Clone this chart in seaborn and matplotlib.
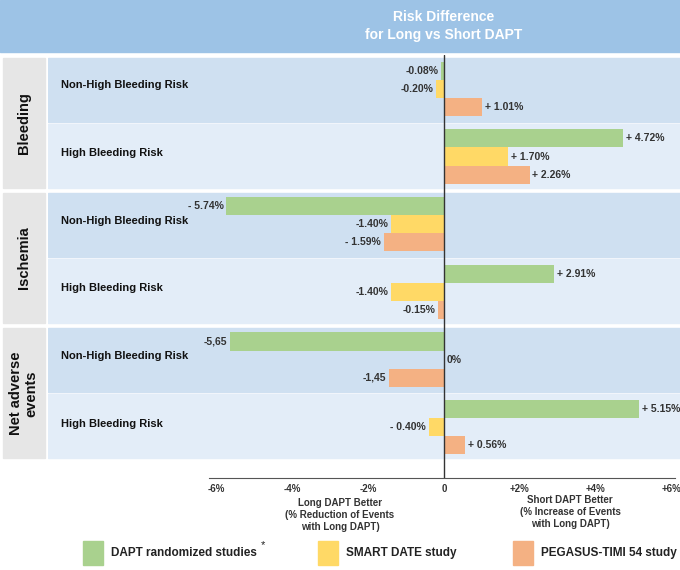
import matplotlib
matplotlib.use("Agg")
import matplotlib.pyplot as plt
from matplotlib.patches import Rectangle
import pandas as pd
import seaborn as sns

# ─── Data ─────────────────────────────────────────────────────────────────────

rows = ["B-NH", "B-H", "I-NH", "I-H", "N-NH", "N-H"]
row_names = ["Non-High Bleeding Risk", "High Bleeding Risk"] * 3
groups = ["Bleeding", "Ischemia", "Net adverse\nevents"]
studies = ["DAPT randomized studies", "SMART DATE study", "PEGASUS-TIMI 54 study"]

dapt = [-0.08, 4.72, -5.74, 2.91, -5.65, 5.15]
smart = [-0.20, 1.70, -1.40, -1.40, 0.0, -0.40]
pegasus = [1.01, 2.26, -1.59, -0.15, -1.45, 0.56]

dapt_labels = ["-0.08%", "+ 4.72%", "- 5.74%", "+ 2.91%", "-5,65", "+ 5.15%"]
smart_labels = ["-0.20%", "+ 1.70%", "-1.40%", "-1.40%", "0%", "- 0.40%"]
pegasus_labels = ["+ 1.01%", "+ 2.26%", "- 1.59%", "-0.15%", "-1,45", "+ 0.56%"]

ticks = [-6, -4, -2, 0, 2, 4, 6]
tick_labels = ["-6%", "-4%", "-2%", "0", "+2%", "+4%", "+6%"]

colors = ["#a9d18e", "#ffd966", "#f4b183"]

df = pd.DataFrame({
    "row": rows * 3,
    "value": dapt + smart + pegasus,
    "study": sum([[s] * len(rows) for s in studies], []),
})

# ─── Figure ───────────────────────────────────────────────────────────────────

sns.set_style("white")
plt.rcParams["font.family"] = ["Liberation Sans", "DejaVu Sans"]

fig = plt.figure(figsize=(6.8, 5.7), dpi=100)
fig.patches.append(Rectangle((0, 1 - 52 / 570), 1, 52 / 570, transform=fig.transFigure,
                             color="#9dc3e6", zorder=0))
fig.text(444 / 680, 1 - 17 / 570, "Risk Difference", ha="center", va="center",
         color="white", fontsize=10, fontweight="bold")
fig.text(444 / 680, 1 - 35 / 570, "for Long vs Short DAPT", ha="center", va="center",
         color="white", fontsize=10, fontweight="bold")

ax = fig.add_axes([48 / 680, 1 - 478 / 570, 632 / 680, 423 / 570])

sns.barplot(data=df, x="value", y="row", hue="study", order=rows, hue_order=studies,
            palette=colors, saturation=1, orient="h", width=0.8, linewidth=0,
            ax=ax, legend=False, zorder=3)

for cont, labs in zip(ax.containers, [dapt_labels, smart_labels, pegasus_labels]):
    ax.bar_label(cont, labels=labs, padding=2, fontsize=7.5, fontweight="bold",
                 color="#333333")

# row bands
for i in range(len(rows)):
    top_gap = 0.04 if i % 2 == 0 else 0.015
    bot_gap = 0.015 if i % 2 == 0 else 0.04
    ax.axhspan(i - 0.5 + top_gap, i + 0.5 - bot_gap,
               color="#cfe0f1" if i % 2 == 0 else "#e3edf8", zorder=0)
    ax.text(-10.1, i - 0.05, row_names[i], ha="left", va="center", fontsize=8,
            fontweight="bold", color="#111111")

# group boxes on the left
for g, name in enumerate(groups):
    y0 = 2 * g - 0.5 + 0.04
    ax.add_patch(Rectangle((-11.64, y0), 1.1, 2 - 0.08, color="#e6e6e6",
                           clip_on=False, zorder=1))
    ax.text(-11.09, 2 * g + 0.5, name, rotation=90, ha="center", va="center",
            fontsize=10.5, fontweight="bold", color="#111111", clip_on=False)

ax.axvline(0, color="#333333", lw=1, zorder=4)

ax.set_xlim(-10.45, 6.23)
ax.set_ylim(5.75, -0.5)
ax.set_xlabel("")
ax.set_ylabel("")
ax.set_yticks([])
ax.set_xticks(ticks)
ax.set_xticklabels(tick_labels, fontsize=7, fontweight="bold", color="#333333")
ax.tick_params(axis="x", direction="inout", length=5, color="#555555", pad=2)
for s in ["top", "left", "right"]:
    ax.spines[s].set_visible(False)
ax.spines["bottom"].set_bounds(-6.2, 6.1)
ax.spines["bottom"].set_color("#555555")

fig.text(340 / 680, 1 - 515 / 570,
         "Long DAPT Better\n(% Reduction of Events\nwith Long DAPT)",
         ha="center", va="center", fontsize=7, fontweight="bold", color="#333333",
         linespacing=1.3)
fig.text(570 / 680, 1 - 512 / 570,
         "Short DAPT Better\n(% Increase of Events\nwith Long DAPT)",
         ha="center", va="center", fontsize=7, fontweight="bold", color="#333333",
         linespacing=1.3)

# legend
legend_x = [83, 318, 513]
for x, c, t in zip(legend_x, colors, studies):
    fig.patches.append(Rectangle((x / 680, 1 - 565 / 570), 20 / 680, 24 / 570,
                                 transform=fig.transFigure, color=c))
    fig.text((x + 28) / 680, 1 - 553 / 570, t, ha="left", va="center",
             fontsize=8.5, fontweight="bold", color="#222222")
fig.text(261 / 680, 1 - 545 / 570, "*", ha="left", va="center", fontsize=8,
         color="#222222")

fig.savefig("out.png", dpi=100)
